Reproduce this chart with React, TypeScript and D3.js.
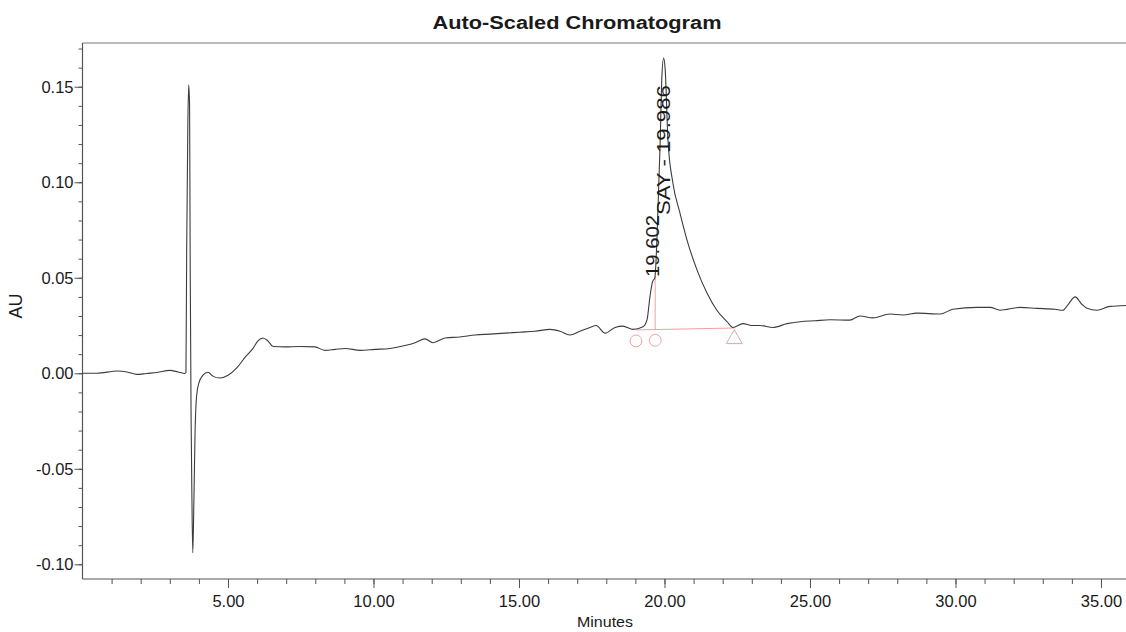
import React, { useEffect, useRef } from "react";
import * as d3 from "d3";

// Retention time (minutes) and absorbance (AU)
const times: number[] = [
  0.0, 0.5, 1.19, 1.53, 1.87, 2.2, 2.56, 3.0, 3.28, 3.52, 3.555,
  3.58, 3.62, 3.65, 3.68, 3.7, 3.73, 3.76, 3.79, 3.83, 3.87, 3.92,
  4.0, 4.14, 4.31, 4.48, 4.72, 5.0, 5.31, 5.62, 5.86, 6.03, 6.2, 6.37, 6.55,
  6.96, 7.47, 7.99, 8.33, 8.68, 9.02, 9.54, 10.05, 10.57, 11.08, 11.43, 11.77,
  12.04, 12.46, 12.97, 13.49, 14.0, 14.52, 15.03, 15.55, 16.07, 16.41, 16.75,
  17.1, 17.44, 17.65, 17.96, 18.3, 18.57, 18.92, 19.26, 19.4, 19.5, 19.59,
  19.67, 19.74, 19.85, 19.91, 19.97, 20.02, 20.12, 20.29, 20.53, 20.77, 21.12,
  21.46, 21.8, 22.15, 22.35, 22.7, 23.0, 23.28, 23.73, 24.21, 24.66, 25.17,
  25.69, 26.37, 26.72, 27.16, 27.75, 28.2, 28.68, 29.47, 29.91, 30.74, 31.19,
  31.53, 32.22, 32.8, 33.42, 33.69, 33.87, 34.11, 34.35, 34.52, 34.86, 35.31, 35.86,
];
const absorbance: number[] = [
  0.0, 0.0, 0.0012, 0.0007, -0.0006, -0.0001, 0.0004, 0.0015, 0.0007, -0.0001, 0.0005,
  0.064, 0.13, 0.151, 0.14, 0.06, -0.02, -0.065, -0.094, -0.065, -0.03, -0.012,
  -0.005, -0.001, 0.0005, -0.0015, -0.0025, -0.001, 0.003, 0.009, 0.013, 0.017, 0.0185, 0.017, 0.014,
  0.0138, 0.014, 0.0138, 0.012, 0.0125, 0.013, 0.012, 0.0125, 0.013, 0.0145, 0.016, 0.018,
  0.016, 0.0185, 0.019, 0.02, 0.0205, 0.021, 0.0215, 0.022, 0.023, 0.022, 0.02,
  0.022, 0.024, 0.025, 0.021, 0.024, 0.0247, 0.023, 0.0244, 0.028, 0.04, 0.048,
  0.05, 0.07, 0.12, 0.155, 0.165, 0.16, 0.122, 0.0995, 0.084, 0.07, 0.054,
  0.042, 0.033, 0.027, 0.024, 0.026, 0.025, 0.025, 0.024, 0.026, 0.027, 0.0275,
  0.028, 0.0278, 0.03, 0.029, 0.031, 0.0305, 0.0315, 0.031, 0.0335, 0.0345, 0.0345,
  0.033, 0.0345, 0.034, 0.0335, 0.033, 0.036, 0.04, 0.036, 0.034, 0.033, 0.035, 0.0355,
];

const xMajorTicks: number[] = [5, 10, 15, 20, 25, 30, 35];
const xMinorTicks: number[] = d3.range(1, 36);
const yMajorTicks: number[] = [-0.1, -0.05, 0, 0.05, 0.1, 0.15];
const yMinorTicks: number[] = d3.range(-10, 18).map((i) => i / 100);

// Peak labels: [label, retention time, absorbance where the label starts]
const peakLabels: string[] = ["19.602", "SAY - 19.986"];
const peakLabelTimes: number[] = [19.602, 19.986];
const peakLabelStarts: number[] = [0.0504, 0.0828];

// Integration baseline (start, drop line, end)
const baselineTimes: number[] = [19.02, 19.68, 22.4];
const baselineValues: number[] = [0.0227, 0.023, 0.0237];
const dropLineTop: number = 0.051;

const W = 1126;
const H = 632;
const FONT = "'Liberation Sans', Arial, Helvetica, sans-serif";

export default function App() {
  const ref = useRef<SVGSVGElement | null>(null);

  useEffect(() => {
    const svg = d3.select(ref.current);
    svg.selectAll("*").remove();

    const x = d3.scaleLinear().domain([0, 35.86]).range([82.5, 1126]);
    const y = d3.scaleLinear().domain([-0.1077, 0.1729]).range([579, 43]);

    const data = times.map((t, i) => [t, absorbance[i]] as [number, number]);

    // Frame
    const frame = svg.append("g").attr("stroke", "#555").attr("stroke-width", 1.2);
    frame.append("line").attr("x1", x(0)).attr("x2", W).attr("y1", y.range()[1]).attr("y2", y.range()[1]).attr("stroke", "#777");
    frame.append("line").attr("x1", x(0)).attr("x2", x(0)).attr("y1", y.range()[1]).attr("y2", y.range()[0]);
    frame.append("line").attr("x1", x(0)).attr("x2", W).attr("y1", y.range()[0]).attr("y2", y.range()[0]);

    // X axis
    const gxMinor = svg.append("g").attr("transform", `translate(0,${y.range()[0]})`)
      .call(d3.axisBottom(x).tickValues(xMinorTicks).tickSize(5).tickFormat(() => ""));
    const gxMajor = svg.append("g").attr("transform", `translate(0,${y.range()[0]})`)
      .call(d3.axisBottom(x).tickValues(xMajorTicks).tickSize(9).tickPadding(7).tickFormat((d) => (+d).toFixed(2)));

    // Y axis
    const gyMinor = svg.append("g").attr("transform", `translate(${x(0)},0)`)
      .call(d3.axisLeft(y).tickValues(yMinorTicks).tickSize(4).tickFormat(() => ""));
    const gyMajor = svg.append("g").attr("transform", `translate(${x(0)},0)`)
      .call(d3.axisLeft(y).tickValues(yMajorTicks).tickSize(8).tickPadding(1).tickFormat((d) => (+d).toFixed(2)));

    [gxMinor, gxMajor, gyMinor, gyMajor].forEach((g) => {
      g.select(".domain").remove();
      g.selectAll(".tick line").attr("stroke", "#555").attr("stroke-width", 1);
      g.selectAll(".tick text")
        .attr("fill", "#1a1a1a")
        .attr("font-family", FONT)
        .attr("font-size", 16.5);
    });

    // Integration baseline & markers (pink)
    const pink = "#eea3a3";
    const pg = svg.append("g").attr("stroke", pink).attr("fill", "none").attr("stroke-width", 1);
    pg.append("line")
      .attr("x1", x(baselineTimes[0])).attr("y1", y(baselineValues[0]))
      .attr("x2", x(baselineTimes[2])).attr("y2", y(baselineValues[2]));
    pg.append("line")
      .attr("x1", x(baselineTimes[1])).attr("y1", y(baselineValues[1]))
      .attr("x2", x(baselineTimes[1])).attr("y2", y(dropLineTop));
    [0, 1].forEach((i) => {
      pg.append("path")
        .attr("transform", `translate(${x(baselineTimes[i])},${y(baselineValues[i]) + 11})`)
        .attr("d", d3.symbol(d3.symbolCircle, 110)());
    });
    pg.append("path")
      .attr("transform", `translate(${x(baselineTimes[2])},${y(baselineValues[2]) + 11})`)
      .attr("d", d3.symbol(d3.symbolTriangle, 110)());

    // Trace
    const line = d3.line<[number, number]>()
      .x((d) => x(d[0]))
      .y((d) => y(d[1]))
      .curve(d3.curveMonotoneX);
    svg.append("path")
      .datum(data)
      .attr("d", line)
      .attr("fill", "none")
      .attr("stroke", "#3c3c3c")
      .attr("stroke-width", 1.1)
      .attr("stroke-linejoin", "round");

    // Peak labels
    const labelLengths = [62, 130];
    peakLabels.forEach((lab, i) => {
      svg.append("text")
        .attr("transform", `translate(${x(peakLabelTimes[i]) + 6},${y(peakLabelStarts[i])}) rotate(-90)`)
        .attr("font-family", FONT)
        .attr("font-size", 19)
        .attr("fill", "#1a1a1a")
        .attr("textLength", labelLengths[i])
        .attr("lengthAdjust", "spacingAndGlyphs")
        .text(lab);
    });

    // Title & axis titles
    svg.append("text")
      .attr("x", 577).attr("y", 28.5)
      .attr("text-anchor", "middle")
      .attr("font-family", FONT).attr("font-weight", "bold").attr("font-size", 17.5)
      .attr("fill", "#1a1a1a")
      .attr("textLength", 289).attr("lengthAdjust", "spacingAndGlyphs")
      .text("Auto-Scaled Chromatogram");

    svg.append("text")
      .attr("x", 605).attr("y", 627)
      .attr("text-anchor", "middle")
      .attr("font-family", FONT).attr("font-size", 15.5)
      .attr("fill", "#1a1a1a")
      .attr("textLength", 56).attr("lengthAdjust", "spacingAndGlyphs")
      .text("Minutes");

    svg.append("text")
      .attr("transform", "translate(21.5,306) rotate(-90)")
      .attr("text-anchor", "middle")
      .attr("font-family", FONT).attr("font-size", 18)
      .attr("fill", "#1a1a1a")
      .text("AU");
  }, []);

  return (
    <svg
      ref={ref}
      width={W}
      height={H}
      style={{ position: "absolute", left: 0, top: 0, background: "#fff", display: "block" }}
    />
  );
}
